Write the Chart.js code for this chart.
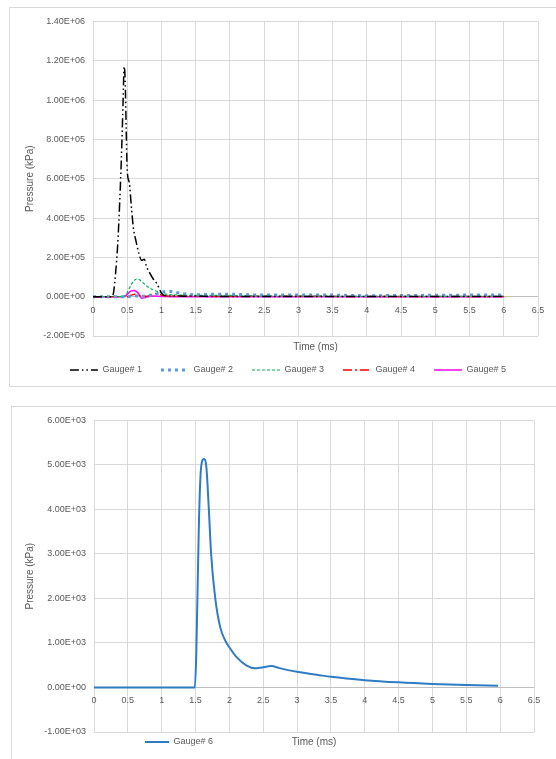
<!DOCTYPE html>
<html>
<head>
<meta charset="utf-8">
<script src="https://cdn.jsdelivr.net/npm/chart.js@4.4.1/dist/chart.umd.min.js"></script>
<style>
  html, body { margin: 0; padding: 0; background: #fff; overflow: hidden; }
  .box { position: absolute; box-sizing: border-box; border: 1px solid #d9d9d9; background: #fff; }
  #box1 { left: 9px; top: 7px; width: 557px; height: 380px; }
  #box2 { left: 11px; top: 406px; width: 560px; height: 364px; }
  .box canvas { display: block; }
</style>
</head>
<body>
<div class="box" id="box1"><canvas id="chart1"></canvas></div>
<div class="box" id="box2"><canvas id="chart2"></canvas></div>
<script>
// time (ms) / pressure (kPa)
const gauge1Time = [0, 0.28, 0.3, 0.33, 0.36, 0.39, 0.42, 0.44, 0.455, 0.47, 0.485, 0.5, 0.53, 0.56, 0.59, 0.63, 0.67, 0.71, 0.75, 0.78, 0.83, 0.88, 0.93, 0.97, 1.0, 1.05, 1.2, 1.5, 2, 3, 4, 5, 6];
const gauge1Pressure = [0, 0, 2e4, 1.2e5, 2.6e5, 4.8e5, 7.6e5, 1.0e6, 1.17e6, 1.1e6, 8.5e5, 6.4e5, 5.8e5, 4.6e5, 3.5e5, 2.8e5, 2.2e5, 1.85e5, 1.9e5, 1.55e5, 1.2e5, 9.0e4, 6.8e4, 4.0e4, 1.8e4, 5e3, 3e3, 2e3, 1e3, 1e3, 1e3, 1e3, 1e3];

const gauge2Time = [0, 0.5, 0.6, 0.7, 0.8, 0.9, 1.0, 1.1, 1.2, 1.35, 1.5, 1.75, 2, 2.5, 3, 3.5, 4, 4.5, 5, 5.5, 6];
const gauge2Pressure = [0, 0, 5e3, 2e3, 5e3, 1.2e4, 2.2e4, 2.8e4, 2.2e4, 1.4e4, 1.0e4, 1.2e4, 1.2e4, 8e3, 9e3, 8e3, 5e3, 6e3, 7e3, 8e3, 8e3];

const gauge3Time = [0, 0.44, 0.48, 0.52, 0.56, 0.6, 0.64, 0.68, 0.72, 0.78, 0.84, 0.9, 0.96, 1.02, 1.1, 1.3, 1.5, 1.8, 2.2, 3, 4, 5, 6];
const gauge3Pressure = [0, 0, 1e4, 3.5e4, 6.2e4, 8.2e4, 9.0e4, 8.6e4, 7.4e4, 5.6e4, 4.2e4, 3.2e4, 2.4e4, 1.6e4, 1.1e4, 8e3, 7e3, 7e3, 5e3, 3e3, 2e3, 2e3, 2e3];

const gauge4Time = [0, 0.5, 0.56, 0.62, 0.7, 0.78, 0.86, 0.92, 0.98, 1.05, 1.2, 1.5, 2, 3, 4, 5, 6];
const gauge4Pressure = [0, 0, 8e3, 1.2e4, 4e3, 2e3, 1.0e4, 1.5e4, 1.0e4, 5e3, 3e3, 3e3, 2e3, 2e3, 1e3, 1e3, 1e3];

const gauge5Time = [0, 0.45, 0.5, 0.55, 0.6, 0.65, 0.68, 0.71, 0.75, 0.8, 0.9, 1.0, 1.5, 2, 3, 4, 5, 6];
const gauge5Pressure = [0, 0, 1.2e4, 2.8e4, 3.2e4, 2.2e4, 8e3, -8e3, -5e3, 0, 3e3, 1e3, 0, 0, 0, 0, 0, 0];

const gauge6Time = [0, 1.0, 1.49, 1.51, 1.525, 1.55, 1.575, 1.6, 1.625, 1.66, 1.695, 1.73, 1.79, 1.865, 1.94, 2.01, 2.11, 2.255, 2.38, 2.48, 2.62, 2.74, 3.0, 3.33, 3.5, 4, 4.5, 5, 5.5, 5.97];
const gauge6Pressure = [0, 0, 0, 700, 1800, 3700, 4800, 5100, 5135, 4950, 4050, 3000, 2020, 1350, 1050, 880, 675, 490, 430, 450, 480, 435, 352, 277, 240, 165, 115, 80, 55, 40];

const seriesNames = ['Gauge# 1', 'Gauge# 2', 'Gauge# 3', 'Gauge# 4', 'Gauge# 5', 'Gauge# 6'];

Chart.defaults.font.family = '"Liberation Sans", Arial, sans-serif';
Chart.defaults.font.size = 9;
Chart.defaults.color = '#595959';

function sci(v) {
    const parts = Number(v).toExponential(2).split('e');
    const n = parseInt(parts[1], 10);
    return parts[0] + 'E' + (n < 0 ? '-' : '+') + String(Math.abs(n)).padStart(2, '0');
}

function pts(t, p) {
    return t.map((x, i) => ({ x: x, y: p[i] }));
}

// legend samples keep the dataset's dash pattern
function lineLabels(chart) {
    const items = Chart.defaults.plugins.legend.labels.generateLabels(chart);
    items.forEach(it => {
        const ds = chart.data.datasets[it.datasetIndex];
        it.lineDash = ds.borderDash || [];
        it.lineWidth = ds.borderWidth;
        it.strokeStyle = ds.borderColor;
    });
    return items;
}

// moves a legend (chart 2 has it beside the axis title)
const placeLegend = {
    id: 'placeLegend',
    afterLayout(chart, args, opts) {
        const lg = chart.legend;
        if (!lg) return;
        const w = lg.right - lg.left, h = lg.bottom - lg.top;
        const left = opts.left !== undefined ? opts.left : lg.left + (opts.dx || 0);
        const top = opts.top !== undefined ? opts.top : lg.top;
        lg.left = left; lg.right = left + w;
        lg.top = top; lg.bottom = top + h;
    }
};

function scales(yMin, yMax, yStep, yWidth, tickPad, title) {
    return {
        x: {
            type: 'linear', min: 0, max: 6.5,
            ticks: { display: false, stepSize: 0.5 },
            grid: { color: '#d9d9d9', drawTicks: false },
            border: { display: false },
            title: { display: true, text: 'Time (ms)', font: { size: 10 }, padding: title }
        },
        x2: {
            type: 'linear', axis: 'x', min: 0, max: 6.5,
            position: { y: 0 },
            ticks: { stepSize: 0.5, padding: tickPad, callback: v => String(v), maxRotation: 0, autoSkip: false },
            grid: { display: false, drawTicks: false },
            border: { display: false }
        },
        y: {
            min: yMin, max: yMax,
            ticks: { stepSize: yStep, padding: 8, callback: v => sci(v) },
            grid: { color: c => (c.tick && c.tick.value === 0 ? '#bfbfbf' : '#d9d9d9'), drawTicks: false },
            border: { display: false },
            title: { display: true, text: 'Pressure (kPa)', font: { size: 10 }, padding: { top: 4, bottom: 0 } },
            afterFit: s => { s.width = yWidth; }
        }
    };
}

new Chart(document.getElementById('chart1'), {
    type: 'line',
    data: {
        datasets: [
            { label: seriesNames[0], data: pts(gauge1Time, gauge1Pressure), borderColor: '#000000', backgroundColor: '#000000', borderWidth: 1.5, borderDash: [9, 3, 1.5, 3, 1.5, 3] },
            { label: seriesNames[1], data: pts(gauge2Time, gauge2Pressure), borderColor: '#5b9bd5', backgroundColor: '#5b9bd5', borderWidth: 3, borderDash: [3, 4] },
            { label: seriesNames[2], data: pts(gauge3Time, gauge3Pressure), borderColor: '#00b050', backgroundColor: '#00b050', borderWidth: 1.2, borderDash: [3, 2] },
            { label: seriesNames[3], data: pts(gauge4Time, gauge4Pressure), borderColor: '#ff0000', backgroundColor: '#ff0000', borderWidth: 1.5, borderDash: [9, 3, 2, 3] },
            { label: seriesNames[4], data: pts(gauge5Time, gauge5Pressure), borderColor: '#ff00ff', backgroundColor: '#ff00ff', borderWidth: 1.5 }
        ]
    },
    plugins: [placeLegend],
    options: {
        responsive: true,
        maintainAspectRatio: false,
        animation: false,
        cubicInterpolationMode: 'monotone',
        elements: { point: { radius: 0 } },
        layout: { padding: { left: 10, right: 27, top: 9, bottom: 1.5 } },
        scales: scales(-2e5, 1.4e6, 2e5, 73, 8, { top: 5, bottom: -6.5 }),
        plugins: {
            legend: {
                position: 'bottom',
                labels: { usePointStyle: true, pointStyle: 'line', pointStyleWidth: 28, boxHeight: 9, padding: 19, font: { size: 9 }, generateLabels: lineLabels }
            },
            placeLegend: { dx: 9 },
            tooltip: { enabled: false }
        }
    }
});

new Chart(document.getElementById('chart2'), {
    type: 'line',
    data: {
        datasets: [
            { label: seriesNames[5], data: pts(gauge6Time, gauge6Pressure), borderColor: '#2e7cc4', backgroundColor: '#2e7cc4', borderWidth: 2 }
        ]
    },
    plugins: [placeLegend],
    options: {
        responsive: true,
        maintainAspectRatio: false,
        animation: false,
        cubicInterpolationMode: 'monotone',
        elements: { point: { radius: 0 } },
        layout: { padding: { left: 8, right: 36, top: 13, bottom: 0 } },
        scales: scales(-1000, 6000, 1000, 74, 8, { top: 4, bottom: 2 }),
        plugins: {
            legend: {
                position: 'bottom',
                align: 'start',
                labels: { usePointStyle: true, pointStyle: 'line', pointStyleWidth: 24, boxHeight: 9, padding: 0, font: { size: 9 }, generateLabels: lineLabels }
            },
            placeLegend: { left: 133, top: 330.5 },
            tooltip: { enabled: false }
        }
    }
});
</script>
</body>
</html>
